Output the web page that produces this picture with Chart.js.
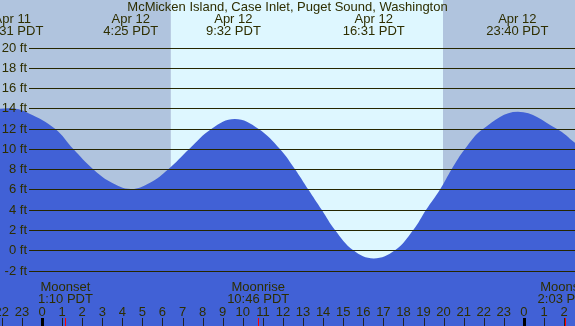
<!DOCTYPE html>
<html>
<head>
<meta charset="utf-8">
<script src="https://cdn.jsdelivr.net/npm/chart.js@4.4.1/dist/chart.umd.min.js"></script>
<style>
  html, body { margin: 0; padding: 0; background: #fff; }
  #wrap { width: 575px; height: 326px; position: relative; }
</style>
</head>
<body>
<div id="wrap"><canvas id="c" width="575" height="326"></canvas></div>
<script>
// ---- data ----
const titleText = 'McMicken Island, Case Inlet, Puget Sound, Washington';

// tide curve samples: hours from Apr 12 00:00 PDT, height in feet
const tideHours = [-2.6, -1.48, -0.65, 0.65, 1.56, 2.55, 3.39, 4.42, 5.38, 6.29, 7.33, 8.45, 9.60, 10.77, 11.85, 12.60, 13.26, 13.93, 14.59, 15.50, 16.52, 17.58, 18.49, 19.13, 19.82, 20.40, 21.06, 21.98, 23.70, 25.63, 26.54, 27.2];
const tideFeet  = [13.85, 14.0, 13.5, 12.0, 10.0, 8.0, 6.77, 6.05, 6.67, 8.0, 10.0, 12.0, 12.95, 12.0, 10.0, 8.0, 6.0, 4.0, 2.0, 0.0, -0.8, 0.0, 2.0, 4.0, 6.0, 8.0, 10.0, 12.0, 13.67, 12.0, 10.6, 9.5];

// high / low tide events
const eventHours = [-1.48, 4.42, 9.53, 16.52, 23.67];
const eventDates = ['Apr 11', 'Apr 12', 'Apr 12', 'Apr 12', 'Apr 12'];
const eventTimes = ['22:31 PDT', '4:25 PDT', '9:32 PDT', '16:31 PDT', '23:40 PDT'];

// sun (day shading)
const sunriseHour = 6.42;
const sunsetHour = 19.97;

// moon events
const moonHours = [1.167, 10.767, 26.05];
const moonNames = ['Moonset', 'Moonrise', 'Moonset'];
const moonTimes = ['1:10 PDT', '10:46 PDT', '2:03 PDT'];

// axis ticks
const feetTicks = [-2, 0, 2, 4, 6, 8, 10, 12, 14, 16, 18, 20];
const hourTicks = [-2, -1, 0, 1, 2, 3, 4, 5, 6, 7, 8, 9, 10, 11, 12, 13, 14, 15, 16, 17, 18, 19, 20, 21, 22, 23, 24, 25, 26];
const hourLabels = ['22', '23', '0', '1', '2', '3', '4', '5', '6', '7', '8', '9', '10', '11', '12', '13', '14', '15', '16', '17', '18', '19', '20', '21', '22', '23', '0', '1', '2'];

// view range
const xMin = -2.092, xMax = 26.544;
const yMin = -7.465, yMax = 24.685;

const FONT = '13px "Liberation Sans", Arial, sans-serif';
const TXT = '#2E2E00';

const points = tideHours.map((h, i) => ({ x: h, y: tideFeet[i] }));

const decor = {
  id: 'decor',
  beforeDatasetsDraw(chart) {
    const { ctx, chartArea: a, scales: { x } } = chart;
    const sr = x.getPixelForValue(sunriseHour);
    const ss = x.getPixelForValue(sunsetHour);
    ctx.save();
    ctx.fillStyle = '#B0C4DE';
    ctx.fillRect(a.left, a.top, sr - a.left, a.bottom - a.top);
    ctx.fillRect(ss, a.top, a.right - ss, a.bottom - a.top);
    ctx.fillStyle = '#DEF7FF';
    ctx.fillRect(sr, a.top, ss - sr, a.bottom - a.top);
    ctx.restore();
  },
  afterDatasetsDraw(chart) {
    const { ctx, chartArea: a, scales: { x, y } } = chart;
    ctx.save();
    // horizontal grid + feet labels
    ctx.font = FONT;
    ctx.textBaseline = 'middle';
    ctx.textAlign = 'right';
    feetTicks.forEach(v => {
      const py = Math.round(y.getPixelForValue(v));
      ctx.fillStyle = '#262600';
      ctx.fillRect(29, py, a.right - 29, 1);
      ctx.fillStyle = TXT;
      ctx.fillText(v + ' ft', 27, py + 0.5);
    });
    // title
    ctx.textAlign = 'center';
    ctx.fillStyle = TXT;
    ctx.fillText(titleText, 287.5, 7);
    // tide events
    eventHours.forEach((h, i) => {
      const px = x.getPixelForValue(h);
      ctx.fillText(eventDates[i], px, 19);
      ctx.fillText(eventTimes[i], px, 31.5);
    });
    // moon events
    moonHours.forEach((h, i) => {
      const px = x.getPixelForValue(h);
      ctx.fillStyle = TXT;
      ctx.fillText(moonNames[i], px, 287.5);
      ctx.fillText(moonTimes[i], px, 299.5);
    });
    // hour labels and ticks
    hourTicks.forEach((h, i) => {
      const px = x.getPixelForValue(h);
      ctx.fillStyle = TXT;
      ctx.fillText(hourLabels[i], px, 312);
      const rx = Math.round(px);
      if (hourLabels[i] === '0') {
        ctx.fillStyle = '#000000';
        ctx.fillRect(rx - 1, 318, 3, 8);
      } else {
        ctx.fillStyle = '#222222';
        ctx.fillRect(rx, 318, 1, 8);
      }
    });
    moonHours.forEach(h => {
      const rx = Math.round(x.getPixelForValue(h));
      ctx.fillStyle = '#FF0000';
      ctx.fillRect(rx, 318, 1, 8);
    });
    ctx.restore();
  }
};

new Chart(document.getElementById('c'), {
  type: 'line',
  data: {
    datasets: [{
      data: points,
      fill: 'start',
      backgroundColor: '#4161D6',
      borderWidth: 0,
      borderColor: 'rgba(0,0,0,0)',
      pointRadius: 0,
      tension: 0.4
    }]
  },
  options: {
    responsive: false,
    animation: false,
    layout: { padding: 0 },
    plugins: { legend: { display: false }, tooltip: { enabled: false } },
    scales: {
      x: { type: 'linear', min: xMin, max: xMax, display: false },
      y: { type: 'linear', min: yMin, max: yMax, display: false }
    }
  },
  plugins: [decor]
});
</script>
</body>
</html>
